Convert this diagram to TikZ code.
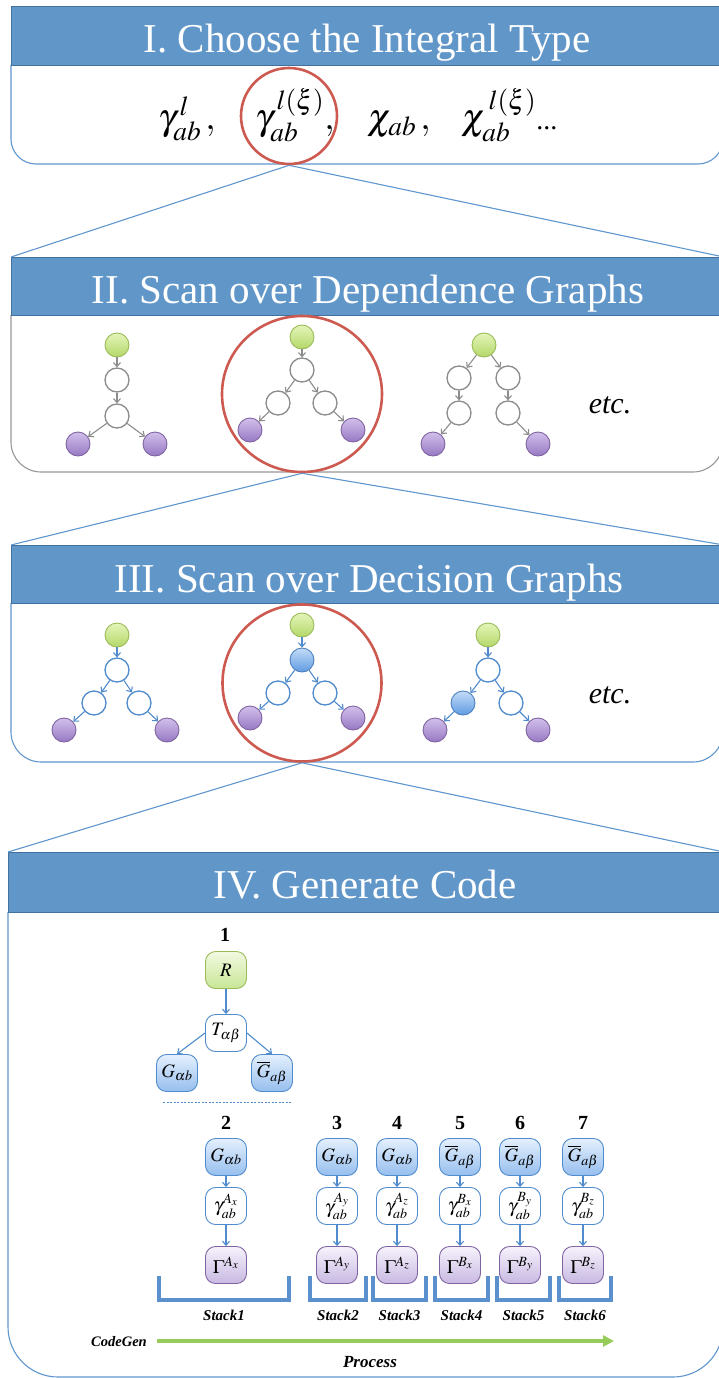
\documentclass[tikz,border=0pt]{standalone}
\usepackage{mathptmx}
\usepackage[no-math]{fontspec}
\setmainfont{Liberation Serif}
\usetikzlibrary{shapes.geometric,arrows.meta}
\definecolor{hdr}{RGB}{97,150,201}
\definecolor{hdrline}{RGB}{65,113,156}
\definecolor{lnk}{RGB}{95,150,205}
\definecolor{ring}{RGB}{205,90,80}
\definecolor{grayln}{RGB}{150,150,150}
\definecolor{gedge}{RGB}{140,140,140}
\definecolor{bedge}{RGB}{80,140,205}
\definecolor{grnb}{RGB}{155,187,89}
\definecolor{grnt}{RGB}{228,245,185}
\definecolor{grnbot}{RGB}{180,215,105}
\definecolor{purb}{RGB}{128,100,162}
\definecolor{purt}{RGB}{210,192,235}
\definecolor{purbot}{RGB}{150,120,195}
\definecolor{blub}{RGB}{79,129,189}
\definecolor{blut}{RGB}{195,220,248}
\definecolor{blubot}{RGB}{95,155,225}
\definecolor{boxbt}{RGB}{228,240,253}
\definecolor{boxbb}{RGB}{150,190,238}
\definecolor{boxpt}{RGB}{246,242,251}
\definecolor{boxpb}{RGB}{200,185,226}
\definecolor{boxgt}{RGB}{242,249,225}
\definecolor{boxgb}{RGB}{200,230,150}
\definecolor{stackc}{RGB}{90,145,205}
\definecolor{procg}{RGB}{150,205,90}
\tikzset{
  hdrbox/.style={draw=hdrline, fill=hdr, line width=0.8pt, anchor=north west, inner sep=0pt, minimum width=712pt},
  ttl/.style={text=white, font=\fontsize{41}{41}\selectfont, anchor=base, inner sep=0pt},
  bodyblue/.style={draw=lnk, line width=1.1pt},
  bodygray/.style={draw=grayln, line width=1.1pt},
  redring/.style={ellipse, draw=ring, line width=2.6pt, inner sep=0pt},
  lnkline/.style={draw=lnk, line width=1.1pt},
  fml/.style={anchor=base west, inner sep=0pt, font=\fontsize{37}{37}\selectfont},
  gc/.style={circle, minimum size=24pt, inner sep=0pt, line width=0.9pt},
  grn/.style={gc, draw=grnb, top color=grnt, bottom color=grnbot},
  pur/.style={gc, draw=purb, top color=purt, bottom color=purbot},
  blu/.style={gc, draw=blub, top color=blut, bottom color=blubot},
  wg/.style={gc, draw=gedge, fill=white, line width=1.3pt},
  wb/.style={gc, draw=bedge, fill=white, line width=1.3pt},
  garr/.style={draw=gedge, line width=1.1pt, -{Straight Barb[length=4pt,width=7pt]}},
  barr/.style={draw=bedge, line width=1.1pt, -{Straight Barb[length=4pt,width=7pt]}},
  etcl/.style={font=\fontsize{30}{30}\selectfont\itshape},
  bx/.style={rectangle, rounded corners=10pt, minimum width=41pt, minimum height=37pt, inner sep=0pt, line width=0.9pt, font=\fontsize{19}{19}\selectfont},
  bxg/.style={bx, draw=grnb, top color=boxgt, bottom color=boxgb},
  bxb/.style={bx, draw=bedge, top color=boxbt, bottom color=boxbb},
  bxw/.style={bx, draw=bedge, fill=white},
  bxp/.style={bx, draw=purb, top color=boxpt, bottom color=boxpb},
  num/.style={font=\fontsize{20}{20}\selectfont\bfseries, inner sep=0pt},
  stk/.style={font=\fontsize{15}{15}\selectfont\bfseries\itshape, inner sep=0pt},
  brk/.style={draw=stackc, line width=4pt},
}
\begin{document}
\begin{tikzpicture}[x=1pt,y=-1pt]
\useasboundingbox (0,0) rectangle (719,1378);
\clip (0,0) rectangle (719,1378);

% ---------- Panel I ----------
\draw[bodyblue, rounded corners=25pt] (11,65) -- (11,164) -- (723,164) -- (723,65);
\node[hdrbox, minimum height=59pt] (h1) at (11,6) {};
\node[ttl] (t1) at (367,53) {I. Choose the Integral Type};
\node[fml] (f1) at (158,129) {$\gamma^{\,l}_{ab}\,,$};
\node[fml] (f2) at (255,129) {$\gamma^{\,l(\xi)}_{ab},$};
\node[fml] (f3) at (367,129) {$\chi_{ab}\,,$};
\node[fml] (f4) at (461,129) {$\chi^{\,l(\xi)}_{ab}$\fontsize{28}{28}\selectfont...};
\node[redring, minimum width=96pt, minimum height=96pt] (e1) at (289,116) {};

% ---------- Panel II ----------
\draw[bodygray, rounded corners=30pt] (11,315) -- (11,472) -- (723,472) -- (723,315);
\node[hdrbox, minimum height=58pt] (h2) at (11,257) {};
\node[ttl] (t2) at (368,303) {II. Scan over Dependence Graphs};
\draw[lnkline] (e1.south) -- (h2.north west);
\draw[lnkline] (e1.south) -- (h2.north east);

% graph 1
\node[grn] (a1) at (117,345) {};
\node[wg] (a2) at (117,380) {};
\node[wg] (a3) at (117,416) {};
\node[pur] (a4) at (78,444) {};
\node[pur] (a5) at (155,444) {};
\draw[garr] (a1) -- (a2);
\draw[garr] (a2) -- (a3);
\draw[garr] (a3) -- (a4);
\draw[garr] (a3) -- (a5);
% graph 2
\node[grn] (b1) at (302,337) {};
\node[wg] (b2) at (302,370) {};
\node[wg] (b3) at (278,403) {};
\node[wg] (b4) at (325,403) {};
\node[pur] (b5) at (250,430) {};
\node[pur] (b6) at (353,430) {};
\draw[garr] (b1) -- (b2);
\draw[garr] (b2) -- (b3);
\draw[garr] (b2) -- (b4);
\draw[garr] (b3) -- (b5);
\draw[garr] (b4) -- (b6);
% graph 3
\node[grn] (c1) at (484,345) {};
\node[wg] (c2) at (459,378) {};
\node[wg] (c3) at (508,378) {};
\node[wg] (c4) at (459,413) {};
\node[wg] (c5) at (508,413) {};
\node[pur] (c6) at (433,444) {};
\node[pur] (c7) at (538,444) {};
\draw[garr] (c1) -- (c2);
\draw[garr] (c1) -- (c3);
\draw[garr] (c2) -- (c4);
\draw[garr] (c3) -- (c5);
\draw[garr] (c4) -- (c6);
\draw[garr] (c5) -- (c7);
\node[etcl] (etc2) at (610,405) {etc.};
\node[redring, minimum width=160pt, minimum height=156pt] (e2) at (302,394) {};

% ---------- Panel III ----------
\draw[bodyblue, rounded corners=30pt] (11,603) -- (11,762) -- (723,762) -- (723,603);
\node[hdrbox, minimum height=58pt] (h3) at (11,545) {};
\node[ttl] (t3) at (369,592) {III. Scan over Decision Graphs};
\draw[lnkline] (e2.south) -- (h3.north west);
\draw[lnkline] (e2.south) -- (h3.north east);

% graph 1
\node[grn] (d1) at (117,635) {};
\node[wb] (d2) at (117,670) {};
\node[wb] (d3) at (94,703) {};
\node[wb] (d4) at (139,703) {};
\node[pur] (d5) at (64,730) {};
\node[pur] (d6) at (167,730) {};
\draw[barr] (d1) -- (d2);
\draw[barr] (d2) -- (d3);
\draw[barr] (d2) -- (d4);
\draw[barr] (d3) -- (d5);
\draw[barr] (d4) -- (d6);
% graph 2
\node[grn] (g1) at (302,625) {};
\node[blu] (g2) at (302,660) {};
\node[wb] (g3) at (278,693) {};
\node[wb] (g4) at (325,693) {};
\node[pur] (g5) at (250,718) {};
\node[pur] (g6) at (353,718) {};
\draw[barr] (g1) -- (g2);
\draw[barr] (g2) -- (g3);
\draw[barr] (g2) -- (g4);
\draw[barr] (g3) -- (g5);
\draw[barr] (g4) -- (g6);
% graph 3
\node[grn] (k1) at (488,635) {};
\node[wb] (k2) at (488,670) {};
\node[blu] (k3) at (463,703) {};
\node[wb] (k4) at (511,703) {};
\node[pur] (k5) at (435,730) {};
\node[pur] (k6) at (538,730) {};
\draw[barr] (k1) -- (k2);
\draw[barr] (k2) -- (k3);
\draw[barr] (k2) -- (k4);
\draw[barr] (k3) -- (k5);
\draw[barr] (k4) -- (k6);
\node[etcl] (etc3) at (610,695) {etc.};
\node[redring, minimum width=159pt, minimum height=157pt] (e3) at (302,683) {};

% ---------- Panel IV ----------
\draw[bodyblue, rounded corners=50pt] (8,912) -- (8,1377) -- (723,1377) -- (723,912);
\node[hdrbox, minimum width=715pt, minimum height=60pt] (h4) at (8,852) {};
\node[ttl] (t4) at (365,898) {IV. Generate Code};
\draw[lnkline] (e3.south) -- (h4.north west);
\draw[lnkline] (e3.south) -- (h4.north east);

% tree 1
\node[num] (n1) at (225,935) {1};
\node[bxg] (R) at (226,970) {$R$};
\node[bxw] (T) at (226,1033) {$T_{\alpha\beta}$};
\node[bxb] (G1) at (177,1073) {$G_{\alpha b}$};
\node[bxb] (Gb1) at (272,1073) {$\overline{G}_{a\beta}$};
\draw[barr] (R) -- (T);
\draw[barr] (T.west) -- (G1.north);
\draw[barr] (T.east) -- (Gb1.north);
\draw[draw=bedge, line width=0.9pt, dash pattern=on 2pt off 1.5pt] (163,1102) -- (292,1102);

% columns
\foreach \i/\x/\top/\sup/\lab in {2/226/{G_{\alpha b}}/{A_x}/a, 3/337/{G_{\alpha b}}/{A_y}/b, 4/397/{G_{\alpha b}}/{A_z}/c, 5/460/{\overline{G}_{a\beta}}/{B_x}/d, 6/520/{\overline{G}_{a\beta}}/{B_y}/e, 7/583/{\overline{G}_{a\beta}}/{B_z}/f}{
  \node[num] (num\lab) at (\x,1123) {\i};
  \node[bxb] (top\lab) at (\x,1157) {$\top$};
  \node[bxw] (mid\lab) at (\x,1206) {$\gamma^{\sup}_{ab}$};
  \node[bxp] (bot\lab) at (\x,1265) {$\Gamma^{\sup}$};
  \draw[barr] (top\lab) -- (mid\lab);
  \draw[barr] (mid\lab) -- (bot\lab);
}

% stacks
\foreach \a/\b/\n in {159/289/1, 310/366/2, 373/426/3, 435/488/4, 497/550/5, 559/611/6}{
  \draw[brk] (\a,1276) -- (\a,1300) -- (\b,1300) -- (\b,1276);
  \node[stk] (stack\n) at ({(\a+\b)/2},1315) {Stack\n};
}

% process arrow
\node[font=\fontsize{14.5}{14.5}\selectfont\bfseries\itshape, inner sep=0pt, anchor=east] (cg) at (147,1342) {CodeGen};
\coordinate (pend) at (614,1341);
\draw[draw=procg, line width=4pt, -{Triangle[length=11pt,width=11pt]}] ([xshift=10pt]cg.east |- pend) -- (pend);
\node[font=\fontsize{17}{17}\selectfont\bfseries\itshape, inner sep=0pt] (proc) at (370,1362) {Process};
\end{tikzpicture}
\end{document}
